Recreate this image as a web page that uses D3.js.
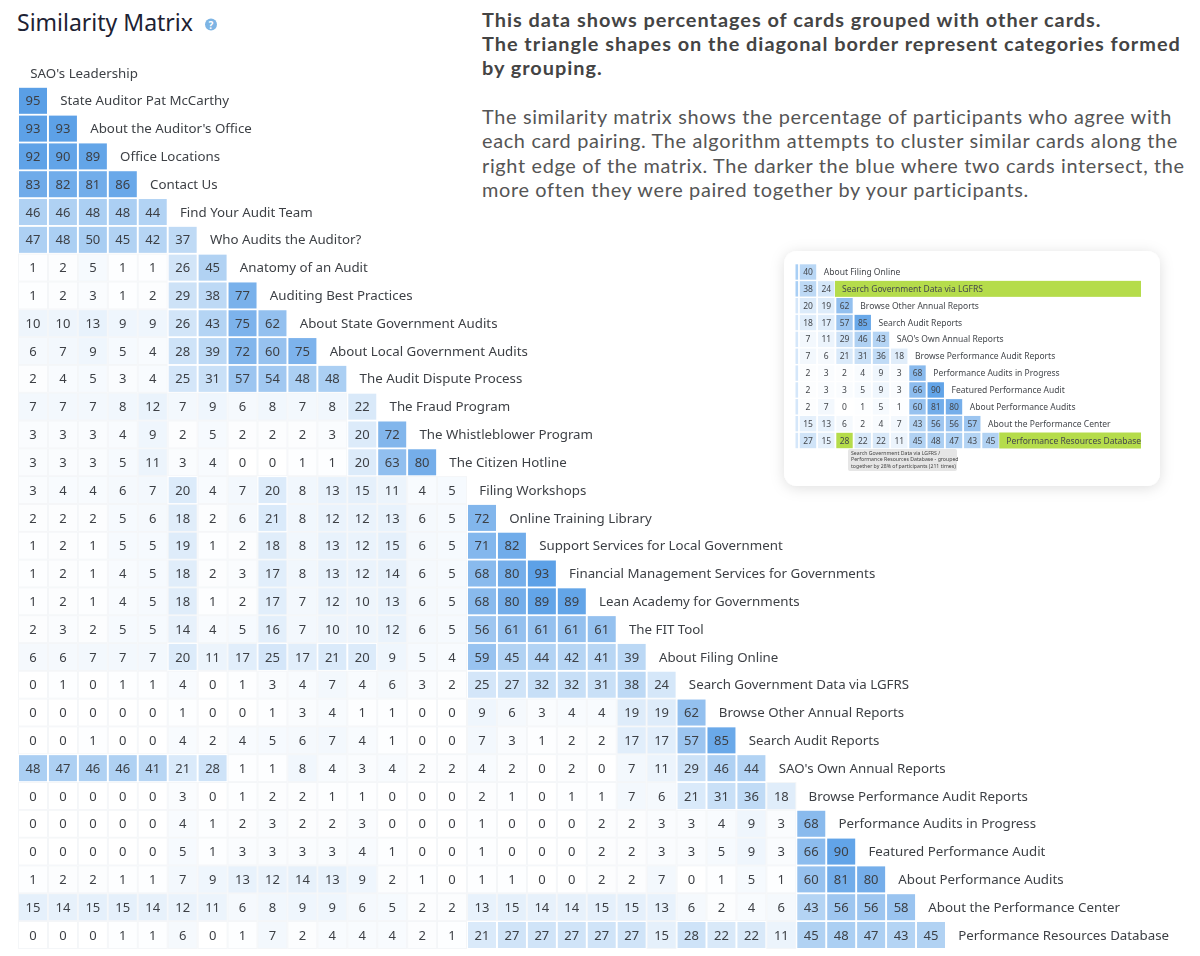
<!DOCTYPE html>
<html><head><meta charset="utf-8">
<script src="https://cdn.jsdelivr.net/npm/d3@7"></script>
<style>html,body{margin:0;padding:0;background:#fff;overflow:hidden}svg{display:block}</style>
</head><body><div id="chart"></div>
<script>
const cardLabels = ["SAO's Leadership","State Auditor Pat McCarthy","About the Auditor's Office","Office Locations","Contact Us","Find Your Audit Team","Who Audits the Auditor?","Anatomy of an Audit","Auditing Best Practices","About State Government Audits","About Local Government Audits","The Audit Dispute Process","The Fraud Program","The Whistleblower Program","The Citizen Hotline","Filing Workshops","Online Training Library","Support Services for Local Government","Financial Management Services for Governments","Lean Academy for Governments","The FIT Tool","About Filing Online","Search Government Data via LGFRS","Browse Other Annual Reports","Search Audit Reports","SAO's Own Annual Reports","Browse Performance Audit Reports","Performance Audits in Progress","Featured Performance Audit","About Performance Audits","About the Performance Center","Performance Resources Database"];
const matrixRows = [[],
[95],
[93,93],
[92,90,89],
[83,82,81,86],
[46,46,48,48,44],
[47,48,50,45,42,37],
[1,2,5,1,1,26,45],
[1,2,3,1,2,29,38,77],
[10,10,13,9,9,26,43,75,62],
[6,7,9,5,4,28,39,72,60,75],
[2,4,5,3,4,25,31,57,54,48,48],
[7,7,7,8,12,7,9,6,8,7,8,22],
[3,3,3,4,9,2,5,2,2,2,3,20,72],
[3,3,3,5,11,3,4,0,0,1,1,20,63,80],
[3,4,4,6,7,20,4,7,20,8,13,15,11,4,5],
[2,2,2,5,6,18,2,6,21,8,12,12,13,6,5,72],
[1,2,1,5,5,19,1,2,18,8,13,12,15,6,5,71,82],
[1,2,1,4,5,18,2,3,17,8,13,12,14,6,5,68,80,93],
[1,2,1,4,5,18,1,2,17,7,12,10,13,6,5,68,80,89,89],
[2,3,2,5,5,14,4,5,16,7,10,10,12,6,5,56,61,61,61,61],
[6,6,7,7,7,20,11,17,25,17,21,20,9,5,4,59,45,44,42,41,39],
[0,1,0,1,1,4,0,1,3,4,7,4,6,3,2,25,27,32,32,31,38,24],
[0,0,0,0,0,1,0,0,1,3,4,1,1,0,0,9,6,3,4,4,19,19,62],
[0,0,1,0,0,4,2,4,5,6,7,4,1,0,0,7,3,1,2,2,17,17,57,85],
[48,47,46,46,41,21,28,1,1,8,4,3,4,2,2,4,2,0,2,0,7,11,29,46,44],
[0,0,0,0,0,3,0,1,2,2,1,1,0,0,0,2,1,0,1,1,7,6,21,31,36,18],
[0,0,0,0,0,4,1,2,3,2,2,3,0,0,0,1,0,0,0,2,2,3,3,4,9,3,68],
[0,0,0,0,0,5,1,3,3,3,3,4,1,0,0,1,0,0,0,2,2,3,3,5,9,3,66,90],
[1,2,2,1,1,7,9,13,12,14,13,9,2,1,0,1,1,0,0,2,2,7,0,1,5,1,60,81,80],
[15,14,15,15,14,12,11,6,8,9,9,6,5,2,2,13,15,14,14,15,15,13,6,2,4,6,43,56,56,58],
[0,0,0,1,1,6,0,1,7,2,4,4,4,2,1,21,27,27,27,27,27,15,28,22,22,11,45,48,47,43,45]];
const insetLabels = ["About Filing Online","Search Government Data via LGFRS","Browse Other Annual Reports","Search Audit Reports","SAO's Own Annual Reports","Browse Performance Audit Reports","Performance Audits in Progress","Featured Performance Audit","About Performance Audits","About the Performance Center","Performance Resources Database"];
const insetRows = [[40],[38,24],[20,19,62],[18,17,57,85],[7,11,29,46,43],[7,6,21,31,36,18],[2,3,2,4,9,3,68],[2,3,3,5,9,3,66,90],[2,7,0,1,5,1,60,81,80],[15,13,6,2,4,7,43,56,56,57],[27,15,28,22,22,11,45,48,47,43,45]];
const insetHighlightRows = [1,10];
const insetHighlightCell = [10,2];
const tooltipLines = ["Search Government Data via LGFRS /","Performance Resources Database - grouped","together by 28% of participants (211 times)"];
const headingLines = ["This data shows percentages of cards grouped with other cards.","The triangle shapes on the diagonal border represent categories formed","by grouping."];
const bodyLines = ["The similarity matrix shows the percentage of participants who agree with","each card pairing. The algorithm attempts to cluster similar cards along the","right edge of the matrix. The darker the blue where two cards intersect, the","more often they were paired together by your participants."];

const FONT = "'Noto Sans', 'Open Sans', sans-serif";
const svg = d3.select("#chart").append("svg").attr("width",1200).attr("height",956).attr("viewBox","0 0 1200 956");
const defs = svg.append("defs");
const sh = defs.append("filter").attr("id","cardShadow").attr("x","-10%").attr("y","-10%").attr("width","120%").attr("height","125%");
sh.append("feDropShadow").attr("dx",0).attr("dy",2).attr("stdDeviation",7).attr("flood-color","#000").attr("flood-opacity",0.13);
defs.append("filter").attr("id","soft").append("feGaussianBlur").attr("stdDeviation",0.35);
defs.append("filter").attr("id","softer").attr("filterUnits","userSpaceOnUse").attr("x",0).attr("y",0).attr("width",1200).attr("height",956).append("feGaussianBlur").attr("stdDeviation",0.22);

const color = d3.scaleLinear().domain([0,100]).range(["#ffffff","#519ae5"]);
const gapColor = d3.scaleThreshold().domain([20]).range(["#f4f6f8","#ffffff"]);

// title
svg.append("text").attr("x",17).attr("y",30.5).attr("font-family",FONT).attr("font-size",23).attr("fill","#1d2233").text("Similarity Matrix");
svg.append("circle").attr("cx",211).attr("cy",24.5).attr("r",6).attr("fill","#7db4e4");
svg.append("text").attr("x",211).attr("y",28.5).attr("text-anchor","middle").attr("font-family",FONT).attr("font-size",10).attr("font-weight",700).attr("fill","#fff").text("?");

// side text
const side = svg.append("g").attr("font-family","Lato, sans-serif");
side.selectAll(".h").data(headingLines).join("text").attr("class","h").attr("x",482).attr("y",(d,i)=>27+i*24.2).attr("font-size",19.9).attr("letter-spacing",0.98).attr("font-weight",700).attr("fill","#444").text(d=>d);
side.selectAll(".b").data(bodyLines).join("text").attr("class","b").attr("x",482).attr("y",(d,i)=>123.5+i*24.5).attr("font-size",19.9).attr("letter-spacing",0.66).attr("fill","#555").text(d=>d);

// main matrix
const x = d3.scaleLinear().domain([0,30]).range([33,931]);
const y = d3.scaleLinear().domain([0,31]).range([73,935]);
const CW = 28, CH = 26;
const cells = matrixRows.flatMap((r,i)=>r.map((v,j)=>({r:i,c:j,v})));
const m = svg.append("g").attr("filter","url(#softer)");
m.selectAll(".gap").data(cells).join("rect").attr("class","gap")
 .attr("x",d=>x(d.c)-15).attr("y",d=>y(d.r)-14).attr("width",30).attr("height",28).attr("fill",d=>gapColor(d.v));
m.selectAll(".cell").data(cells).join("rect").attr("class","cell")
 .attr("x",d=>x(d.c)-CW/2).attr("y",d=>y(d.r)-CH/2).attr("width",CW).attr("height",CH).attr("fill",d=>color(d.v));
m.selectAll(".val").data(cells).join("text").attr("class","val")
 .attr("x",d=>x(d.c)).attr("y",d=>y(d.r)+4.6).attr("text-anchor","middle").attr("font-family",FONT).attr("font-size",13).attr("fill","#3c3f44").text(d=>d.v);
m.selectAll(".lab").data(cardLabels).join("text").attr("class","lab")
 .attr("x",(d,i)=>x(i)-2.7).attr("y",(d,i)=>y(i)+4.6).attr("font-family",FONT).attr("font-size",13.3).attr("fill","#3c3f44").text(d=>d);

// inset card
svg.append("rect").attr("x",784).attr("y",251).attr("width",376).attr("height",235).attr("rx",13).attr("fill","#fff").attr("filter","url(#cardShadow)");
const ix = d3.scaleLinear().domain([0,10]).range([808,990.5]);
const iy = d3.scaleLinear().domain([0,10]).range([272,440.5]);
const IW = 16.4, IH = 15.4;
const inset = svg.append("g").attr("filter","url(#soft)");
const icells = insetRows.flatMap((r,i)=>r.map((v,j)=>({r:i,c:j,v})));
inset.selectAll(".stub").data(insetRows).join("rect").attr("class","stub")
 .attr("x",795.5).attr("y",(d,i)=>iy(i)-IH/2).attr("width",2.6).attr("height",IH).attr("fill",(d,i)=>i<2?"#a9cff5":"#d5e7fa");
inset.selectAll(".bar").data(insetHighlightRows).join("rect").attr("class","bar")
 .attr("x",d=>ix(insetRows[d].length)-9.5).attr("y",d=>iy(d)-IH/2-0.3).attr("width",d=>1141-(ix(insetRows[d].length)-9.5)).attr("height",IH+0.6).attr("fill","#b5dc4b");
inset.selectAll(".icell").data(icells).join("rect").attr("class","icell")
 .attr("x",d=>ix(d.c)-IW/2).attr("y",d=>iy(d.r)-IH/2).attr("width",IW).attr("height",IH)
 .attr("fill",d=>(d.r===insetHighlightCell[0]&&d.c===insetHighlightCell[1])?"#b5dc4b":color(d.v));
inset.selectAll(".ival").data(icells).join("text").attr("class","ival")
 .attr("x",d=>ix(d.c)).attr("y",d=>iy(d.r)+3).attr("text-anchor","middle").attr("font-family",FONT).attr("font-size",8.5).attr("fill","#44474c").text(d=>d.v);
inset.selectAll(".ilab").data(insetLabels).join("text").attr("class","ilab")
 .attr("x",(d,i)=>ix(insetRows[i].length)-2.4).attr("y",(d,i)=>iy(i)+3).attr("font-family",FONT).attr("font-size",8.5).attr("fill","#44474c").text(d=>d);
inset.append("rect").attr("x",848).attr("y",449).attr("width",109).attr("height",22).attr("rx",2).attr("fill","#e6e6e6");
inset.selectAll(".tip").data(tooltipLines).join("text").attr("class","tip").attr("x",851).attr("y",(d,i)=>454.5+i*6.6).attr("font-family",FONT).attr("font-size",5.2).attr("fill","#444").text(d=>d);
</script></body></html>
